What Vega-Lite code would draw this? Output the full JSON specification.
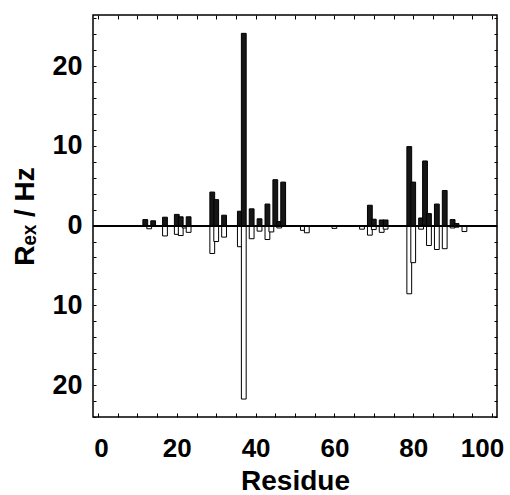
{
  "$schema": "https://vega.github.io/schema/vega-lite/v6.json",
  "width": 404,
  "height": 402,
  "autosize": "none",
  "padding": {"left": 93, "top": 15, "right": 13, "bottom": 78},
  "background": "white",
  "config": {
    "view": {"stroke": "black", "strokeWidth": 1.5},
    "font": "Liberation Sans",
    "axis": {
      "domain": false,
      "grid": false,
      "tickColor": "black",
      "tickWidth": 1,
      "labelColor": "black",
      "titleColor": "black",
      "labelFont": "Liberation Sans",
      "titleFont": "Liberation Sans",
      "labelFontWeight": "bold",
      "titleFontWeight": "bold",
      "labelFontSize": 27,
      "titleFontSize": 28
    }
  },
  "data": {
    "values": [
      {"residue": 12, "value": 0.75, "sign": "pos"},
      {"residue": 14, "value": 0.6, "sign": "pos"},
      {"residue": 17, "value": 1.05, "sign": "pos"},
      {"residue": 20, "value": 1.4, "sign": "pos"},
      {"residue": 21, "value": 1.1, "sign": "pos"},
      {"residue": 23, "value": 1.1, "sign": "pos"},
      {"residue": 29, "value": 4.2, "sign": "pos"},
      {"residue": 30, "value": 3.25, "sign": "pos"},
      {"residue": 32, "value": 1.3, "sign": "pos"},
      {"residue": 36, "value": 1.8, "sign": "pos"},
      {"residue": 37, "value": 24.1, "sign": "pos"},
      {"residue": 39, "value": 2.1, "sign": "pos"},
      {"residue": 41, "value": 0.85, "sign": "pos"},
      {"residue": 43, "value": 2.7, "sign": "pos"},
      {"residue": 45, "value": 5.75, "sign": "pos"},
      {"residue": 46, "value": 0.5, "sign": "pos"},
      {"residue": 47, "value": 5.45, "sign": "pos"},
      {"residue": 69, "value": 2.55, "sign": "pos"},
      {"residue": 70, "value": 0.8, "sign": "pos"},
      {"residue": 72, "value": 0.7, "sign": "pos"},
      {"residue": 73, "value": 0.7, "sign": "pos"},
      {"residue": 79, "value": 9.9, "sign": "pos"},
      {"residue": 80, "value": 5.45, "sign": "pos"},
      {"residue": 82, "value": 0.95, "sign": "pos"},
      {"residue": 83, "value": 8.1, "sign": "pos"},
      {"residue": 84, "value": 1.5, "sign": "pos"},
      {"residue": 86, "value": 2.7, "sign": "pos"},
      {"residue": 88, "value": 4.4, "sign": "pos"},
      {"residue": 90, "value": 0.75, "sign": "pos"},
      {"residue": 91, "value": 0.25, "sign": "pos"},
      {"residue": 13, "value": -0.4, "sign": "neg"},
      {"residue": 17, "value": -1.3, "sign": "neg"},
      {"residue": 20, "value": -1.1, "sign": "neg"},
      {"residue": 21, "value": -1.25, "sign": "neg"},
      {"residue": 22, "value": -0.3, "sign": "neg"},
      {"residue": 23, "value": -0.85, "sign": "neg"},
      {"residue": 29, "value": -3.5, "sign": "neg"},
      {"residue": 30, "value": -2.0, "sign": "neg"},
      {"residue": 32, "value": -1.45, "sign": "neg"},
      {"residue": 36, "value": -2.65, "sign": "neg"},
      {"residue": 37, "value": -21.75, "sign": "neg"},
      {"residue": 39, "value": -1.65, "sign": "neg"},
      {"residue": 41, "value": -0.7, "sign": "neg"},
      {"residue": 43, "value": -1.75, "sign": "neg"},
      {"residue": 44, "value": -0.8, "sign": "neg"},
      {"residue": 46, "value": -0.3, "sign": "neg"},
      {"residue": 52, "value": -0.6, "sign": "neg"},
      {"residue": 53, "value": -0.9, "sign": "neg"},
      {"residue": 60, "value": -0.35, "sign": "neg"},
      {"residue": 67, "value": -0.45, "sign": "neg"},
      {"residue": 69, "value": -1.2, "sign": "neg"},
      {"residue": 70, "value": -0.5, "sign": "neg"},
      {"residue": 72, "value": -0.85, "sign": "neg"},
      {"residue": 73, "value": -0.45, "sign": "neg"},
      {"residue": 79, "value": -8.55, "sign": "neg"},
      {"residue": 80, "value": -4.65, "sign": "neg"},
      {"residue": 82, "value": -0.45, "sign": "neg"},
      {"residue": 84, "value": -2.5, "sign": "neg"},
      {"residue": 86, "value": -3.0, "sign": "neg"},
      {"residue": 88, "value": -2.9, "sign": "neg"},
      {"residue": 90, "value": -0.3, "sign": "neg"},
      {"residue": 91, "value": -0.2, "sign": "neg"},
      {"residue": 93, "value": -0.75, "sign": "neg"}
    ]
  },
  "layer": [
    {
      "mark": {"type": "bar", "size": 4.8, "stroke": "black", "strokeWidth": 1},
      "encoding": {
        "x": {
          "field": "residue",
          "type": "quantitative",
          "scale": {"domain": [0, 100], "nice": false},
          "axis": {
            "orient": "bottom",
            "values": [0, 5, 10, 15, 20, 25, 30, 35, 40, 45, 50, 55, 60, 65, 70, 75, 80, 85, 90, 95, 100],
            "labelExpr": "datum.value % 20 == 0 ? datum.label : ''",
            "labelFontSize": 26,
            "labelOffset": {"condition": [{"test": "datum.value == 100", "value": -10}, {"test": "datum.value == 0", "value": 3}], "value": 0},
            "tickSize": -4,
            "labelPadding": 22,
            "labelFlush": false,
            "title": "Residue",
            "titlePadding": 6
          }
        },
        "y": {
          "field": "value",
          "type": "quantitative",
          "stack": null,
          "scale": {"domain": [-24, 26.4], "nice": false, "zero": false},
          "axis": {
            "orient": "left",
            "values": [-24, -22, -20, -18, -16, -14, -12, -10, -8, -6, -4, -2, 0, 2, 4, 6, 8, 10, 12, 14, 16, 18, 20, 22, 24, 26],
            "labelExpr": "datum.value % 10 == 0 ? format(abs(datum.value), 'd') : ''",
            "tickSize": -3,
            "labelPadding": 14,
            "labelFlush": false,
            "title": "Rₑₓ / Hz",
            "titlePadding": 12
          }
        },
        "y2": {"datum": 0},
        "fill": {
          "field": "sign",
          "type": "nominal",
          "scale": {"domain": ["pos", "neg"], "range": ["#161616", "#ffffff"]},
          "legend": null
        }
      }
    },
    {
      "mark": {"type": "point", "opacity": 0},
      "encoding": {
        "x": {
          "field": "residue",
          "type": "quantitative",
          "axis": {
            "orient": "top",
            "values": [0, 5, 10, 15, 20, 25, 30, 35, 40, 45, 50, 55, 60, 65, 70, 75, 80, 85, 90, 95, 100],
            "labels": false,
            "tickSize": -4,
            "title": null
          }
        },
        "y": {
          "field": "value",
          "type": "quantitative",
          "axis": {
            "orient": "right",
            "values": [-24, -22, -20, -18, -16, -14, -12, -10, -8, -6, -4, -2, 0, 2, 4, 6, 8, 10, 12, 14, 16, 18, 20, 22, 24, 26],
            "labels": false,
            "tickSize": -3,
            "title": null
          }
        }
      }
    },
    {
      "mark": {"type": "rule", "color": "black", "strokeWidth": 1.2},
      "encoding": {
        "y": {"datum": 0, "type": "quantitative", "axis": null}
      }
    }
  ],
  "resolve": {"axis": {"x": "independent", "y": "independent"}}
}
